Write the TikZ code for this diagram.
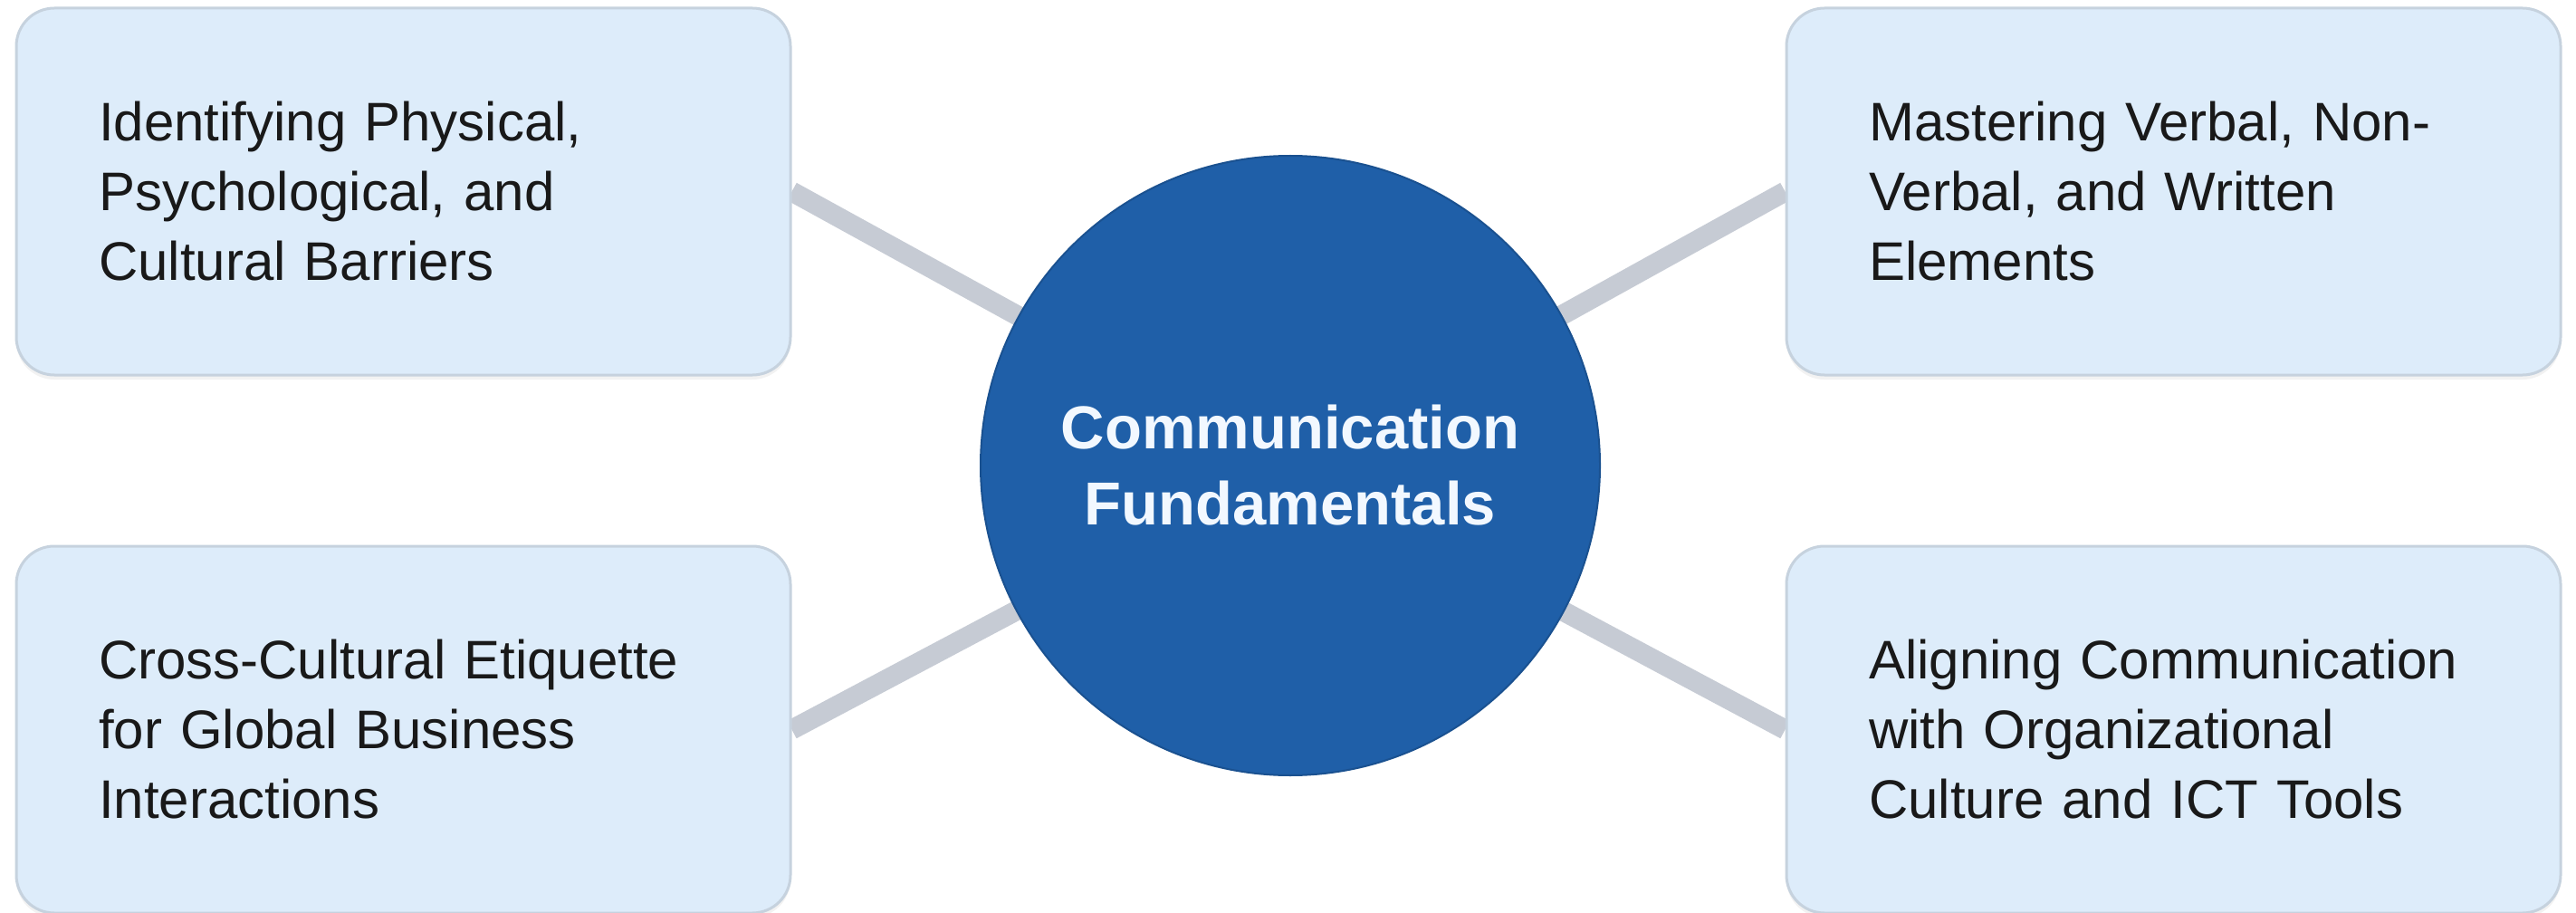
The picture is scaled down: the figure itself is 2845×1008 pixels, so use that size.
\documentclass[tikz,border=0pt]{standalone}
\usepackage{fontspec}
\setmainfont{Liberation Sans}
\usetikzlibrary{backgrounds,shadows}
\definecolor{boxfill}{HTML}{DDECFA}
\definecolor{boxline}{HTML}{C6D2DE}
\definecolor{hubfill}{HTML}{1F5FA8}
\definecolor{hubline}{HTML}{1A5190}
\definecolor{connline}{HTML}{C6CBD4}
\definecolor{hubtext}{HTML}{F2F8FF}
\tikzset{
  topicbox/.style={draw=boxline, line width=3pt, fill=boxfill, rounded corners=42pt,
    minimum width=855pt, minimum height=405pt, text width=673pt, inner xsep=91pt,
    align=left, font=\fontsize{60}{77}\selectfont, text=black!90,
    drop shadow={opacity=0.10, shadow xshift=0pt, shadow yshift=-5pt}},
  hubnode/.style={circle, fill=hubfill, draw=hubline, line width=2pt, minimum size=684pt,
    inner sep=0pt, align=center, text=hubtext, font=\bfseries\fontsize{67}{84}\selectfont},
  conn/.style={draw=connline, line width=22pt}
}
\begin{document}
\begin{tikzpicture}[x=1pt,y=-1pt]
\useasboundingbox (0,0) rectangle (2845,1008);
\node[topicbox] (tl) at (445.5,211.5) {Identifying Physical,\\Psychological, and\\Cultural Barriers};
\node[topicbox] (bl) at (445.5,805.5) {Cross-Cultural Etiquette\\for Global Business\\Interactions};
\node[topicbox] (tr) at (2400.5,211.5) {Mastering Verbal, Non-\\Verbal, and Written\\Elements};
\node[topicbox] (br) at (2400.5,805.5) {Aligning Communication\\with Organizational\\Culture and ICT Tools};
\node[hubnode] (hub) at (1425,514) {Communication\\Fundamentals};
\begin{scope}[on background layer]
\fill[white] (0,0) rectangle (2845,1008);
\draw[conn] (tl.east) -- (hub.center);
\draw[conn] (bl.east) -- (hub.center);
\draw[conn] (tr.west) -- (hub.center);
\draw[conn] (br.west) -- (hub.center);
\end{scope}
\end{tikzpicture}
\end{document}
